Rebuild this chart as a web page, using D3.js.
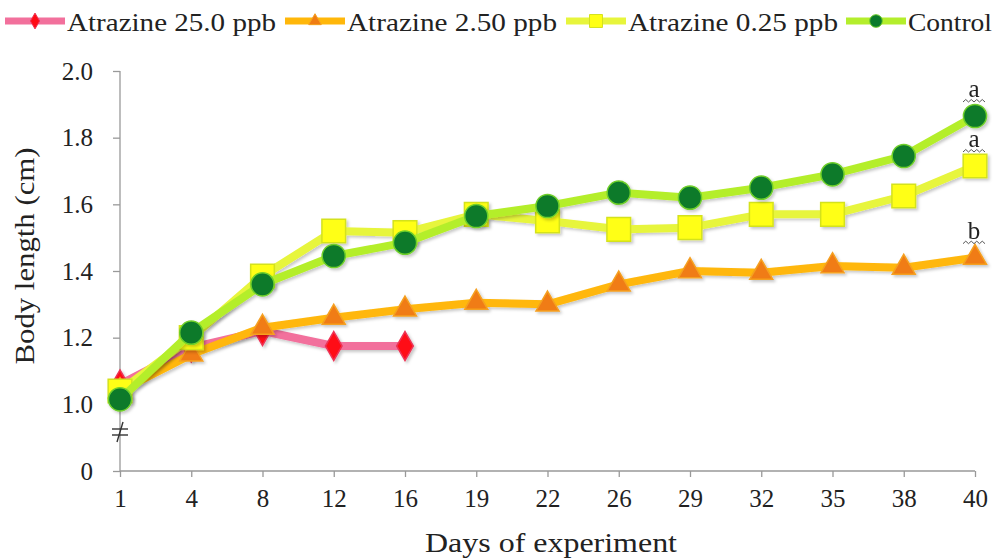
<!DOCTYPE html>
<html>
<head>
<meta charset="utf-8">
<script src="https://cdn.jsdelivr.net/npm/d3@7"></script>
<style>
  body { margin: 0; background: #fff; }
  text { font-family: "Liberation Serif", "DejaVu Serif", serif; fill: #222; }
</style>
</head>
<body>
<div id="chart"></div>
<script>
var days = ["1", "4", "8", "12", "16", "19", "22", "26", "29", "32", "35", "38", "40"];
var atz25 = [1.06, 1.17, 1.22, 1.175, 1.175];
var atz250 = [1.04, 1.15, 1.23, 1.26, 1.285, 1.305, 1.30, 1.36, 1.40, 1.395, 1.415, 1.41, 1.44];
var atz025 = [1.04, 1.20, 1.385, 1.52, 1.515, 1.57, 1.55, 1.525, 1.53, 1.57, 1.57, 1.625, 1.715];
var control = [1.015, 1.215, 1.36, 1.445, 1.485, 1.565, 1.595, 1.635, 1.62, 1.65, 1.69, 1.745, 1.865];
// 0 on the broken axis sits one step under 1.0
var yTickVals = [0.8, 1.0, 1.2, 1.4, 1.6, 1.8, 2.0];
var yTickLabels = ["0", "1.0", "1.2", "1.4", "1.6", "1.8", "2.0"];
var sigLetters = [["a", 1.865], ["a", 1.715], ["b", 1.44]];

var series = [
  { name: "Atrazine 25.0 ppb", values: atz25, line: "#f2709c", fill: "#ff0a14", stroke: "#ee3355", shape: d3.symbolDiamond, size: 240 },
  { name: "Atrazine 2.50 ppb", values: atz250, line: "#ffb70a", fill: "#f07c12", stroke: "#f5a020", shape: d3.symbolTriangle, size: 230 },
  { name: "Atrazine 0.25 ppb", values: atz025, line: "#e7f53c", fill: "#ffff14", stroke: "#d4e21e", shape: d3.symbolSquare, size: 560 },
  { name: "Control", values: control, line: "#b4ee2c", fill: "#0a7a2c", stroke: "#6fcf2a", shape: d3.symbolCircle, size: 420 }
];

var width = 1002, height = 559;
var svg = d3.select("#chart").append("svg")
    .attr("width", width)
    .attr("height", height);

var defs = svg.append("defs");
var f = defs.append("filter").attr("id", "shadow")
    .attr("x", "-30%").attr("y", "-30%").attr("width", "160%").attr("height", "160%");
f.append("feDropShadow").attr("dx", 2).attr("dy", 2).attr("stdDeviation", 1.6)
    .attr("flood-color", "#000").attr("flood-opacity", 0.22);

var x = d3.scalePoint().domain(days).range([120, 975]);
var y = d3.scaleLinear().domain([0.8, 2.0]).range([471, 71]);

// axes
var yAxis = svg.append("g")
    .attr("transform", "translate(120,0)")
    .call(d3.axisLeft(y).tickValues(yTickVals)
        .tickFormat(function(d, i) { return yTickLabels[i]; })
        .tickSize(7).tickPadding(20));
yAxis.selectAll("text").style("font-size", "25px").attr("fill", "#222");

var xAxis = svg.append("g")
    .attr("transform", "translate(0,471)")
    .call(d3.axisBottom(x).tickSize(6).tickPadding(7));
xAxis.selectAll("text").style("font-size", "25px").attr("fill", "#222")
    .attr("dy", null).attr("y", 36);

svg.selectAll(".domain").attr("stroke", "#999").attr("stroke-width", 1.3);
svg.selectAll(".tick line").attr("stroke", "#999").attr("stroke-width", 1.3);
// y axis starts at the category axis, no end caps
yAxis.select(".domain").attr("d", "M0," + y(2.0) + "V" + y(0.8));
xAxis.select(".domain").attr("d", "M" + x("1") + ",0H" + x("40"));

// axis break mark
var brk = svg.append("g").attr("stroke", "#333").attr("stroke-width", 1.4);
brk.append("line").attr("x1", 112).attr("x2", 128).attr("y1", 429).attr("y2", 429);
brk.append("line").attr("x1", 112).attr("x2", 128).attr("y1", 435).attr("y2", 435);
brk.append("line").attr("x1", 117).attr("x2", 123).attr("y1", 442).attr("y2", 422);

// lines and markers
var line = d3.line()
    .x(function(d, i) { return x(days[i]); })
    .y(function(d) { return y(d); });

series.forEach(function(s) {
  var g = svg.append("g").attr("filter", "url(#shadow)");
  g.append("path")
      .attr("d", line(s.values))
      .attr("fill", "none")
      .attr("stroke", s.line)
      .attr("stroke-width", 8)
      .attr("stroke-linejoin", "round");
  g.selectAll(".m")
      .data(s.values)
      .enter().append("path")
      .attr("transform", function(d, i) { return "translate(" + x(days[i]) + "," + y(d) + ")"; })
      .attr("d", d3.symbol().type(s.shape).size(s.size))
      .attr("fill", s.fill)
      .attr("stroke", s.stroke)
      .attr("stroke-width", 1.5);
});

// significance letters
sigLetters.forEach(function(l) {
  var cx = x("40") - 1, cy = y(l[1]);
  svg.append("text")
      .attr("x", cx)
      .attr("y", cy - 19)
      .attr("text-anchor", "middle")
      .style("font-size", "25px")
      .text(l[0]);
  svg.append("path")
      .attr("d", "M" + (cx - 11) + "," + (cy - 14) + "l2.75,-2.5l2.75,2.5l2.75,-2.5l2.75,2.5l2.75,-2.5l2.75,2.5l2.75,-2.5l2.75,2.5")
      .attr("fill", "none")
      .attr("stroke", "#555")
      .attr("stroke-width", 1);
});

// legend
var legX = [5, 285, 566, 846];
var legLen = [209, 210, 210, 84];
series.forEach(function(s, i) {
  var lg = svg.append("g").attr("transform", "translate(" + legX[i] + ",21)");
  lg.append("line").attr("x1", 0).attr("x2", 60).attr("y1", 0).attr("y2", 0)
      .attr("stroke", s.line).attr("stroke-width", 7);
  lg.append("path").attr("transform", "translate(30,0)")
      .attr("d", d3.symbol().type(s.shape).size(s.size * 0.3))
      .attr("fill", s.fill).attr("stroke", s.stroke).attr("stroke-width", 1);
  lg.append("text").attr("x", 62).attr("y", 10)
      .style("font-size", "26px")
      .attr("textLength", legLen[i])
      .attr("lengthAdjust", "spacingAndGlyphs")
      .text(s.name);
});

// axis titles
svg.append("text")
    .attr("transform", "translate(34,256) rotate(-90)")
    .attr("text-anchor", "middle")
    .style("font-size", "27px")
    .attr("textLength", 217)
    .attr("lengthAdjust", "spacingAndGlyphs")
    .text("Body length (cm)");
svg.append("text")
    .attr("x", 551).attr("y", 552)
    .attr("text-anchor", "middle")
    .style("font-size", "27px")
    .attr("textLength", 252)
    .attr("lengthAdjust", "spacingAndGlyphs")
    .text("Days of experiment");
</script>
</body>
</html>
